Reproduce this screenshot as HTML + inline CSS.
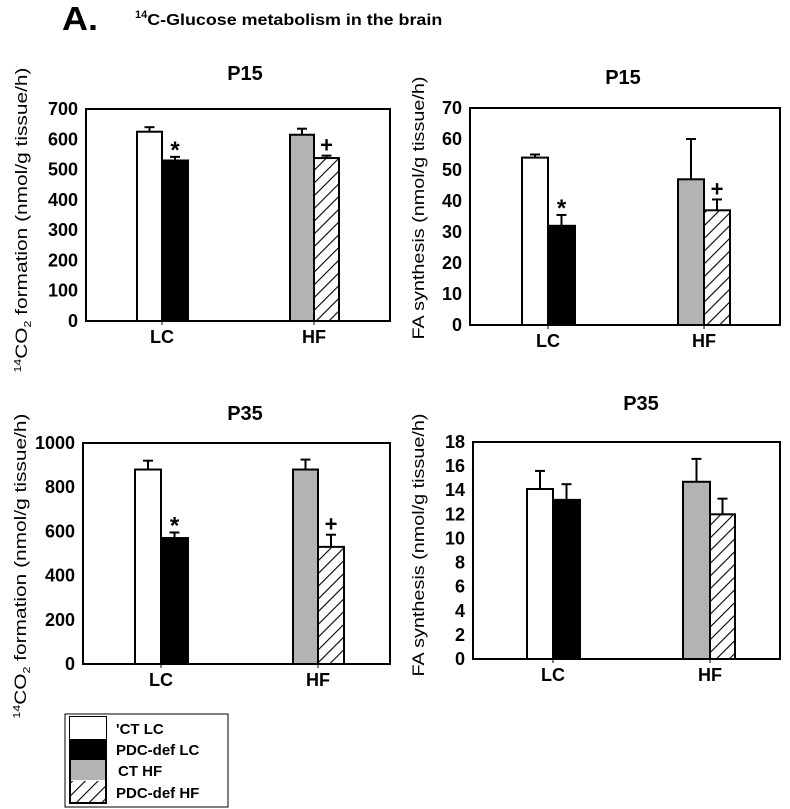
<!DOCTYPE html>
<html><head><meta charset="utf-8">
<style>
body{margin:0;background:#fff;}
svg{display:block;font-family:"Liberation Sans",Arial,sans-serif;}
</style></head>
<body>
<svg id="fig" width="790" height="809" viewBox="0 0 790 809" xmlns="http://www.w3.org/2000/svg">
<defs>
<pattern id="hatch" patternUnits="userSpaceOnUse" width="9" height="9" patternTransform="rotate(45)">
<rect width="9" height="9" fill="#fff"/><line x1="0" y1="0" x2="0" y2="9" stroke="#000" stroke-width="2.2"/>
</pattern>
</defs>
<text x="62" y="30" font-size="33" font-weight="bold" textLength="36" lengthAdjust="spacingAndGlyphs">A.</text>
<text x="135" y="25" font-size="16" font-weight="bold"><tspan font-size="11" dy="-7">14</tspan><tspan dy="7" textLength="295" lengthAdjust="spacingAndGlyphs">C-Glucose metabolism in the brain</tspan></text>
<g>
<rect x="65" y="714" width="163" height="93" fill="#fff" stroke="#000" stroke-width="1"/>
<rect x="70" y="717" width="36" height="86" fill="none" stroke="#000" stroke-width="2"/>
<rect x="70" y="717" width="36" height="22" fill="#fff"/>
<rect x="70" y="739" width="36" height="21" fill="#000"/>
<rect x="71" y="760" width="34" height="20" fill="#b3b3b3"/>
<rect x="71" y="781" width="34" height="21" fill="url(#hatch)"/>
<g font-size="15" font-weight="bold">
<text x="116" y="734">'CT  LC</text>
<text x="116" y="755">PDC-def LC</text>
<text x="118" y="776">CT HF</text>
<text x="116" y="798">PDC-def HF</text>
</g>
</g>
</svg>
<script>
const categories = ["LC","HF"];
const p1Values = [625, 530, 615, 538];
const p1Errors = [15, 12, 20, 8];
const p1Ticks = [0,100,200,300,400,500,600,700];
const p2Values = [54, 32, 47, 37];
const p2Errors = [1, 3.5, 13, 3.5];
const p2Ticks = [0,10,20,30,40,50,60,70];
const p3Values = [880, 570, 880, 530];
const p3Errors = [40, 25, 45, 55];
const p3Ticks = [0,200,400,600,800,1000];
const p4Values = [14.1, 13.2, 14.7, 12.0];
const p4Errors = [1.5, 1.3, 1.9, 1.3];
const p4Ticks = [0,2,4,6,8,10,12,14,16,18];
const seriesNames = ["ct-lc","pdc-lc","ct-hf","pdc-hf"];
const p1Marks = ["", "*", "", "+"];
const p3Marks = ["", "*", "", "+"];
const p2Marks = ["", "*", "", "+"];
const p4Marks = ["", "", "", ""];

const NS="http://www.w3.org/2000/svg";
const svg=document.getElementById('fig');
function mk(tag,attrs,parent){const e=document.createElementNS(NS,tag);for(const k in attrs)e.setAttribute(k,attrs[k]);(parent||svg).appendChild(e);return e;}

function panel(id,box,ticks,values,errors,marks,barX,title,titleX,titleY,yLabel,yLabelX,yCenter,yLen,co2){
  const g=mk('g',{});
  
  
  const max=ticks[ticks.length-1];
  const y=v=>box.b-(v/max)*(box.b-box.t);
  const t=mk('text',{x:titleX,y:titleY,'font-size':20,'font-weight':'bold','text-anchor':'middle'},g);
  t.textContent=title;
  
  
  mk('rect',{x:box.l,y:box.t,width:box.r-box.l,height:box.b-box.t,fill:'none',stroke:'#000','stroke-width':2},g);
  ticks.forEach(tv=>{
    const tl=mk('text',{x:box.l-8,y:y(tv)+6,'font-size':18,'font-weight':'bold','text-anchor':'end'},g);
    tl.textContent=tv;
    
    
  });
  const fills=['#fff','#000','#b3b3b3','url(#hatch)'];
  values.forEach((v,i)=>{
    const x0=barX[i][0],x1=barX[i][1],cx=(x0+x1)/2;
    const yt=y(v+errors[i]);
    const el=mk('line',{x1:cx,x2:cx,y1:y(v),y2:yt,stroke:'#000','stroke-width':2},g);
    
    
    mk('line',{x1:cx-5,x2:cx+5,y1:yt,y2:yt,stroke:'#000','stroke-width':2},g);
    const r=mk('rect',{x:x0,y:y(v),width:x1-x0,height:box.b-y(v),fill:fills[i],stroke:'#000','stroke-width':2},g);
    
    
    if(marks[i]){
      const m=mk('text',{x:cx,y:yt-(marks[i]=='*'?-1:3),'font-size':marks[i]=='*'?24:22,'font-weight':'bold','text-anchor':'middle'},g);
      m.textContent=marks[i];
      
      
    }
  });
  categories.forEach((c,ci)=>{
    const cx=(barX[ci*2][1]);
    const ct=mk('text',{x:cx,y:box.b+22,'font-size':18,'font-weight':'bold','text-anchor':'middle'},g);
    ct.textContent=c;
    
    
    mk('line',{x1:cx,x2:cx,y1:box.b,y2:box.b+4,stroke:'#000','stroke-width':1},g);
  });
  const yl=mk('text',{x:yLabelX,y:yCenter,'font-size':17,'text-anchor':'middle',textLength:yLen,lengthAdjust:'spacingAndGlyphs',transform:`rotate(-90 ${yLabelX} ${yCenter})`},g);
  
  
  if(co2){
    yl.innerHTML='<tspan font-size="10" dy="-6">14</tspan><tspan dy="6">CO</tspan><tspan font-size="10" dy="4">2</tspan><tspan dy="-4"> formation (nmol/g tissue/h)</tspan>';
  } else yl.textContent=yLabel;
}
panel('panel-p15-co2',{l:86,r:390,t:109,b:321},p1Ticks,p1Values,p1Errors,p1Marks,[[137,162],[162,188],[290,314],[314,339]],'P15',245,80,'',27,220,305,true);
panel('panel-p15-fa',{l:470,r:780,t:108,b:325},p2Ticks,p2Values,p2Errors,p2Marks,[[522,548],[548,575],[678,704],[704,730]],'P15',623,84,'FA synthesis (nmol/g tissue/h)',424,208,263,false);
panel('panel-p35-co2',{l:83,r:390,t:443,b:664},p3Ticks,p3Values,p3Errors,p3Marks,[[135,161],[161,188],[293,318],[318,344]],'P35',245,420,'',26,566,305,true);
panel('panel-p35-fa',{l:473,r:780,t:442,b:659},p4Ticks,p4Values,p4Errors,p4Marks,[[527,553],[553,580],[683,710],[710,735]],'P35',641,410,'FA synthesis (nmol/g tissue/h)',424,545,263,false);
</script>
</body></html>
